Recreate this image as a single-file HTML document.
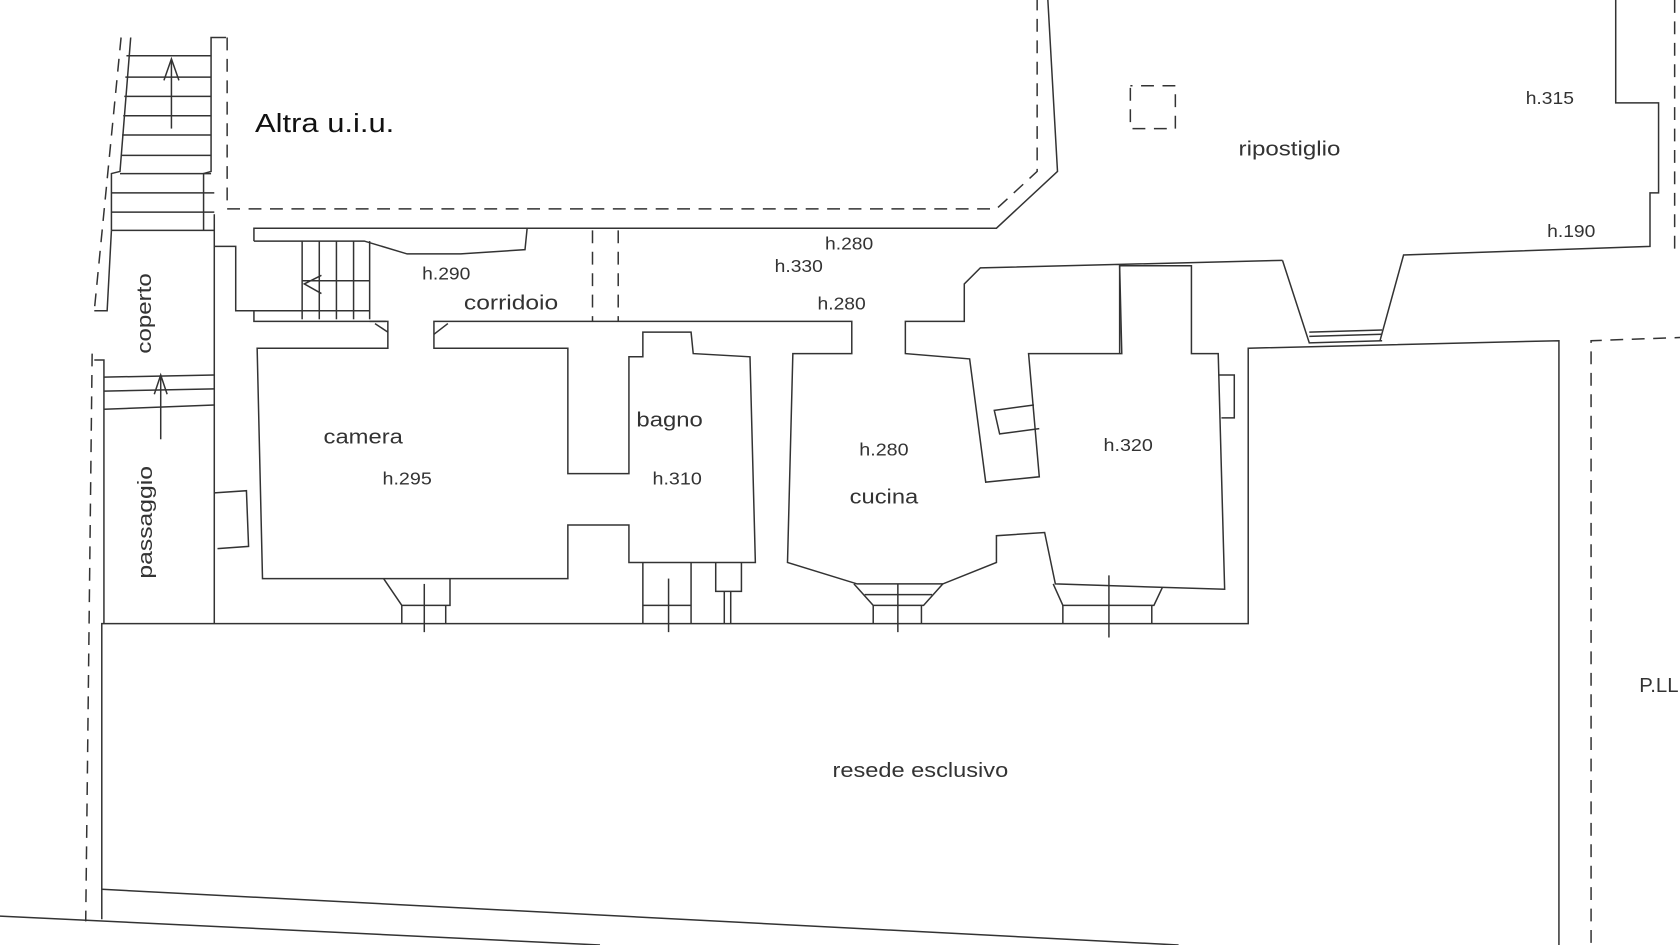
<!DOCTYPE html>
<html><head><meta charset="utf-8"><style>
html,body{margin:0;padding:0;background:#fff;}
svg{display:block}
text{font-family:"Liberation Sans",sans-serif;fill:#333}
</style></head><body>
<svg width="1680" height="945" viewBox="0 0 1568 882" xmlns="http://www.w3.org/2000/svg">
<g fill="none" stroke="#333" stroke-width="1.4">
<polyline points="122,35 112,160 104,162 104,215"/>
<polyline points="211,35 197,35 197,160 190,162 190,215"/>
<line x1="118" y1="52" x2="197" y2="52"/><line x1="117" y1="72" x2="197" y2="72"/>
<line x1="116" y1="90" x2="197" y2="90"/><line x1="115" y1="108" x2="197" y2="108"/>
<line x1="114" y1="126" x2="197" y2="126"/><line x1="113" y1="145" x2="197" y2="145"/>
<line x1="112" y1="162" x2="197" y2="162"/><line x1="104" y1="180" x2="200" y2="180"/>
<line x1="104" y1="198" x2="200" y2="198"/><line x1="104" y1="215" x2="200" y2="215"/>
<line x1="160" y1="120" x2="160" y2="55"/><polyline points="153,75 160,55 167,75"/>
<polyline points="104,215 100,290 88,290"/>
<polyline points="88,336 97,336 97,582"/>
<line x1="200" y1="200" x2="200" y2="582"/>
<line x1="97" y1="352" x2="200" y2="350"/><line x1="97" y1="365" x2="200" y2="363"/><line x1="97" y1="382" x2="200" y2="378"/>
<line x1="150" y1="410" x2="150" y2="350"/><polyline points="144,368 150,350 156,368"/>
<polyline points="200,460 230,458 232,510 203,512"/>
<g stroke-dasharray="12,8">
<polyline points="212,35 212,195 930,195 968,160 968,0"/>
<polyline points="113,35 88,290"/>
<polyline points="86,330 80,860"/>
<line x1="553" y1="215" x2="553" y2="300"/><line x1="577" y1="215" x2="577" y2="300"/>
<polyline points="1055,82 1055,120 1097,120 1097,80 1055,80"/>
<polyline points="1485,880 1485,318 1568,315"/>
<polyline points="1563,0 1563,240"/>
</g>
<polyline points="237,225 237,213 930,213 987,160 978,0"/>
<polyline points="1508,0 1508,96 1548,96 1548,180 1540,180 1540,230 1310,238 1288,318"/>
<polyline points="1197,243 1222,320 1290,318"/>
<line x1="1222" y1="310" x2="1290" y2="308"/><line x1="1222" y1="314" x2="1290" y2="312"/>
<polyline points="200,230 220,230 220,290 237,290 237,300 360,300"/>
<polyline points="237,225 340,225 380,237 430,237 490,233 492,213"/>
<line x1="282" y1="225" x2="282" y2="298"/><line x1="298" y1="225" x2="298" y2="298"/>
<line x1="314" y1="225" x2="314" y2="298"/><line x1="330" y1="225" x2="330" y2="298"/>
<line x1="345" y1="225" x2="345" y2="298"/><line x1="282" y1="262" x2="345" y2="262"/>
<polyline points="300,257 284,265 300,274"/>
<line x1="237" y1="290" x2="345" y2="290"/>
<polyline points="345,300 362,300 362,325 240,325 245,540 530,540 530,490 587,490 587,525 705,525 700,333 647,330 645,310 600,310 600,333 587,333 587,442 530,442 530,325 405,325 405,300 795,300 795,330 740,330 735,525 800,545 880,545 930,525 930,500 975,497 985,545 1143,550 1137,330 1112,330 1112,248 1045,248 1047,330 960,330 970,445 920,450 905,335 845,330 845,300 900,300 900,265 915,250 1197,243"/>
<polyline points="350,302 362,310"/><polyline points="418,302 405,312"/>
<line x1="1045" y1="248" x2="1045" y2="330"/>
<polyline points="970,400 933,405 928,383 965,378"/>
<polyline points="1137,350 1152,350 1152,390 1140,390"/>
<polyline points="358,540 375,565 420,565 420,540"/><line x1="375" y1="565" x2="375" y2="582"/><line x1="416" y1="565" x2="416" y2="582"/><line x1="396" y1="545" x2="396" y2="590"/>
<polyline points="600,525 600,582"/><line x1="600" y1="565" x2="645" y2="565"/><line x1="645" y1="525" x2="645" y2="582"/><line x1="624" y1="540" x2="624" y2="590"/>
<polyline points="668,525 668,552 692,552 692,525"/><line x1="676" y1="552" x2="676" y2="582"/><line x1="682" y1="552" x2="682" y2="582"/>
<polyline points="797,545 815,565 862,565 880,545"/><line x1="815" y1="565" x2="815" y2="582"/><line x1="860" y1="565" x2="860" y2="582"/><line x1="838" y1="545" x2="838" y2="590"/><line x1="807" y1="555" x2="870" y2="555"/>
<polyline points="983,545 992,565 1077,565 1085,548"/><line x1="992" y1="565" x2="992" y2="582"/><line x1="1075" y1="565" x2="1075" y2="582"/><line x1="1035" y1="537" x2="1035" y2="595"/>
<polyline points="95,858 95,582 1165,582 1165,325 1455,318 1455,882"/>
<line x1="95" y1="830" x2="1100" y2="882"/>
<line x1="0" y1="855" x2="560" y2="882"/>
</g>
<g style="" >
<text x="238" y="123" font-size="24" textLength="130" lengthAdjust="spacingAndGlyphs" style="fill:#111">Altra u.i.u.</text>
<text x="1156" y="145" font-size="19" textLength="95" lengthAdjust="spacingAndGlyphs">ripostiglio</text>
<text x="1424" y="97" font-size="16" textLength="45" lengthAdjust="spacingAndGlyphs">h.315</text>
<text x="1444" y="221" font-size="16" textLength="45" lengthAdjust="spacingAndGlyphs">h.190</text>
<text x="770" y="233" font-size="16" textLength="45" lengthAdjust="spacingAndGlyphs">h.280</text>
<text x="723" y="254" font-size="16" textLength="45" lengthAdjust="spacingAndGlyphs">h.330</text>
<text x="763" y="289" font-size="16" textLength="45" lengthAdjust="spacingAndGlyphs">h.280</text>
<text x="394" y="261" font-size="16" textLength="45" lengthAdjust="spacingAndGlyphs">h.290</text>
<text x="433" y="289" font-size="19" textLength="88" lengthAdjust="spacingAndGlyphs">corridoio</text>
<text x="302" y="414" font-size="19" textLength="74" lengthAdjust="spacingAndGlyphs">camera</text>
<text x="357" y="452" font-size="16" textLength="46" lengthAdjust="spacingAndGlyphs">h.295</text>
<text x="594" y="398" font-size="19" textLength="62" lengthAdjust="spacingAndGlyphs">bagno</text>
<text x="609" y="452" font-size="16" textLength="46" lengthAdjust="spacingAndGlyphs">h.310</text>
<text x="802" y="425" font-size="16" textLength="46" lengthAdjust="spacingAndGlyphs">h.280</text>
<text x="793" y="470" font-size="19" textLength="64" lengthAdjust="spacingAndGlyphs">cucina</text>
<text x="1030" y="421" font-size="16" textLength="46" lengthAdjust="spacingAndGlyphs">h.320</text>
<text x="777" y="725" font-size="19" textLength="164" lengthAdjust="spacingAndGlyphs">resede esclusivo</text>
<text x="1530" y="646" font-size="19">P.LL</text>
<text transform="translate(141,330) rotate(-90)" font-size="19" textLength="75" lengthAdjust="spacingAndGlyphs">coperto</text>
<text transform="translate(142,540) rotate(-90)" font-size="19" textLength="105" lengthAdjust="spacingAndGlyphs">passaggio</text>
</g>
</svg>
</body></html>
